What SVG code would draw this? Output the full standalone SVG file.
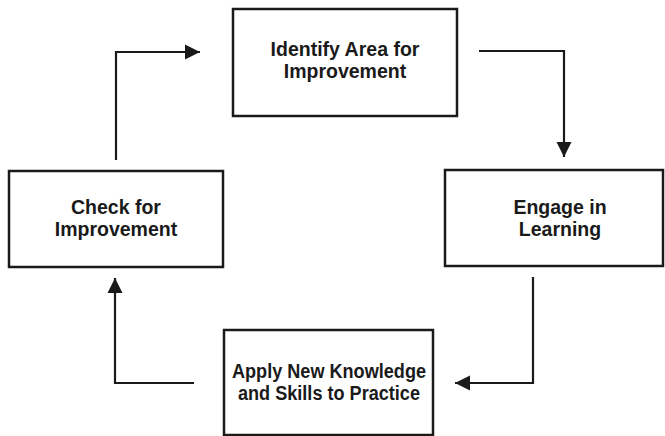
<svg xmlns="http://www.w3.org/2000/svg" width="665" height="436" viewBox="0 0 665 436">
  <style>
    .box { fill: #ffffff; stroke: #1a1a1a; stroke-width: 2.5; }
    .lbl { font-family: "Liberation Sans", Arial, sans-serif; font-weight: bold; font-size: 19.5px; fill: #1a1a1a; text-anchor: middle; }
    .con { fill: none; stroke: #1a1a1a; stroke-width: 2.2; }
  </style>
  <defs>
    <marker id="arrow" markerUnits="userSpaceOnUse" markerWidth="17" markerHeight="17" viewBox="0 0 17 17" refX="16" refY="8.5" orient="auto">
      <path d="M1,1 L16,8.5 L1,16 Z" fill="#1a1a1a"/>
    </marker>
  </defs>
  <rect width="665" height="436" fill="#ffffff"/>

  <g id="identify">
    <rect class="box" x="233" y="9" width="224" height="107"/>
    <text class="lbl" x="345" y="56">Identify Area for</text>
    <text class="lbl" x="345" y="77.5">Improvement</text>
  </g>

  <g id="engage">
    <rect class="box" x="445" y="170" width="218" height="96"/>
    <text class="lbl" x="560" y="213.5">Engage in</text>
    <text class="lbl" x="560" y="235.5">Learning</text>
  </g>

  <g id="apply">
    <rect class="box" x="224" y="330" width="209" height="105"/>
    <text class="lbl" x="329" y="378" textLength="194" lengthAdjust="spacingAndGlyphs">Apply New Knowledge</text>
    <text class="lbl" x="329" y="400" textLength="182" lengthAdjust="spacingAndGlyphs">and Skills to Practice</text>
  </g>

  <g id="check">
    <rect class="box" x="9" y="171" width="214" height="96"/>
    <text class="lbl" x="116" y="214">Check for</text>
    <text class="lbl" x="116" y="236">Improvement</text>
  </g>

  <g id="connectors">
    <polyline class="con" points="116,160 116,52 200,52" marker-end="url(#arrow)"/>
    <polyline class="con" points="479,51 564,51 564,157" marker-end="url(#arrow)"/>
    <polyline class="con" points="533,277 533,383 455,383" marker-end="url(#arrow)"/>
    <polyline class="con" points="194,383 115,383 115,278" marker-end="url(#arrow)"/>
  </g>
</svg>
